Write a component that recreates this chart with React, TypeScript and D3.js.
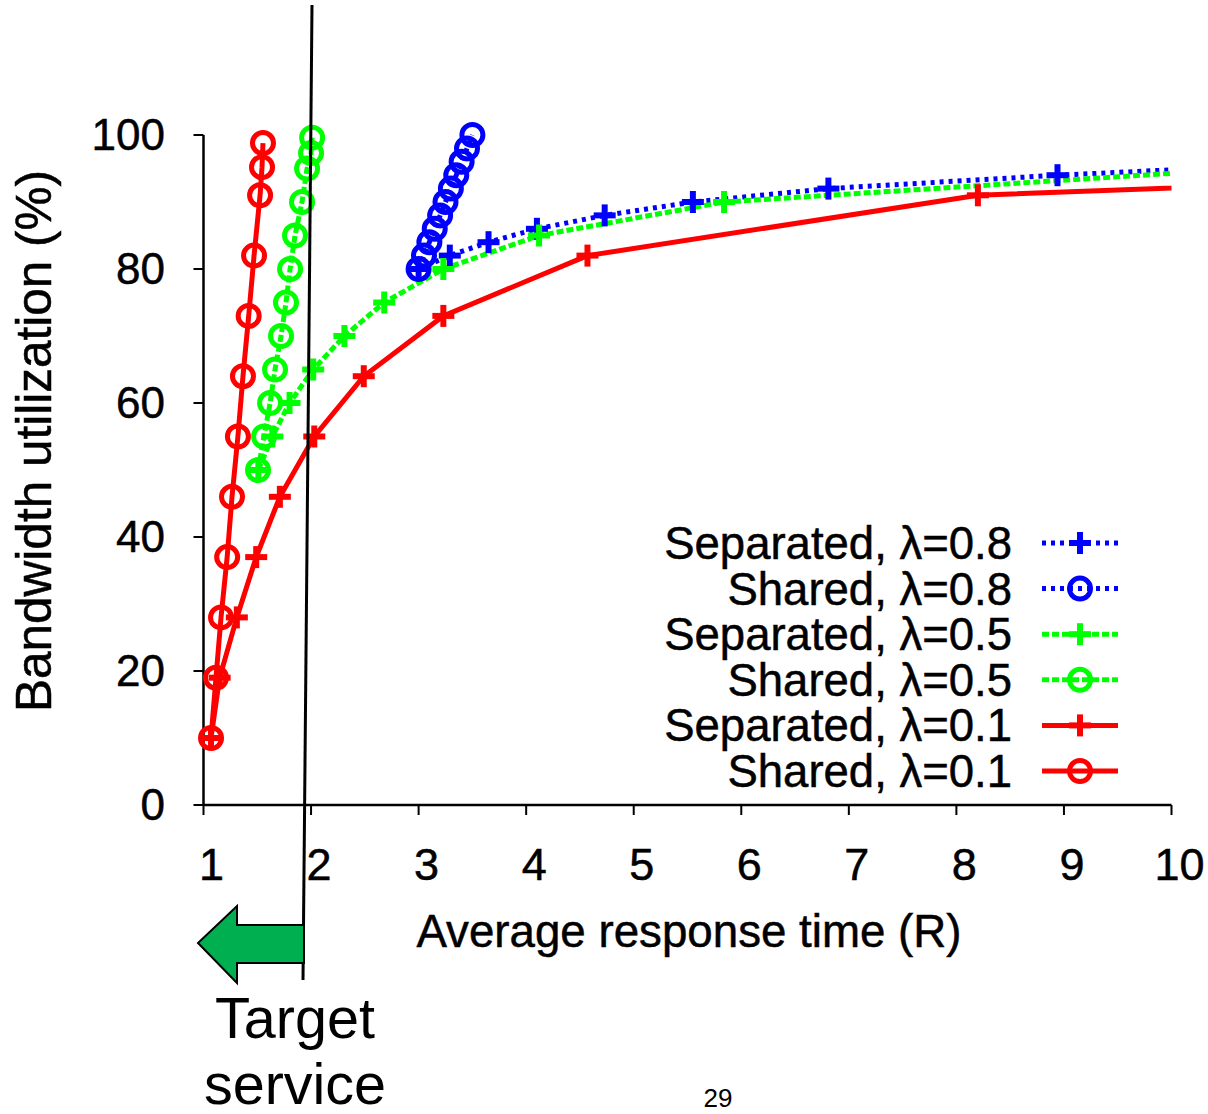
import React from "react";
import * as d3 from "d3";

// ---- data ----
const xTicks = [1, 2, 3, 4, 5, 6, 7, 8, 9, 10];
const yTicks = [0, 20, 40, 60, 80, 100];

const sepHighX = [3.0, 3.29, 3.65, 4.1, 4.73, 5.55, 6.81, 8.94, 11.6];
const sepHighY = [80, 82, 84, 86, 88, 90, 92, 94, 96];
const sharedHighX = [3.0, 3.05, 3.1, 3.15, 3.2, 3.25, 3.3, 3.35, 3.4, 3.45, 3.5];
const sharedHighY = [80, 82, 84, 86, 88, 90, 92, 94, 96, 98, 100];

const sepMidX = [1.51, 1.64, 1.8, 2.02, 2.31, 2.68, 3.23, 4.12, 5.84, 10.7];
const sepMidY = [50, 55, 60, 65, 70, 75, 80, 85, 90, 95];
const sharedMidX = [1.507, 1.563, 1.619, 1.665, 1.721, 1.767, 1.805, 1.851, 1.916, 1.963, 2.0, 2.01];
const sharedMidY = [50, 55, 60, 65, 70, 75, 80, 85, 90, 95, 97.3, 99.6];

const sepLowX = [1.07, 1.15, 1.31, 1.49, 1.71, 2.03, 2.49, 3.23, 4.57, 8.2, 22.9];
const sepLowY = [10, 19, 28, 37, 46, 55, 64, 73, 82, 91, 100];
const sharedLowX = [1.07, 1.116, 1.163, 1.22, 1.265, 1.32, 1.367, 1.42, 1.47, 1.526, 1.544, 1.553];
const sharedLowY = [10, 19, 28, 37, 46, 55, 64, 73, 82, 91, 95.2, 98.8];

const legendLabels = [
  "Separated, λ=0.8",
  "Shared, λ=0.8",
  "Separated, λ=0.5",
  "Shared, λ=0.5",
  "Separated, λ=0.1",
  "Shared, λ=0.1",
];

type Series = { xs: number[]; ys: number[]; color: string; dash: string | null; marker: "plus" | "circle" };

const series: Series[] = [
  { xs: sepHighX, ys: sepHighY, color: "#0000ff", dash: "4,5", marker: "plus" },
  { xs: sharedHighX, ys: sharedHighY, color: "#0000ff", dash: "4,5", marker: "circle" },
  { xs: sepMidX, ys: sepMidY, color: "#00ff00", dash: "7,3", marker: "plus" },
  { xs: sharedMidX, ys: sharedMidY, color: "#00ff00", dash: "7,3", marker: "circle" },
  { xs: sepLowX, ys: sepLowY, color: "#ff0000", dash: null, marker: "plus" },
  { xs: sharedLowX, ys: sharedLowY, color: "#ff0000", dash: null, marker: "circle" },
];

const FONT = "'Liberation Sans', Arial, Helvetica, sans-serif";

function Marker({ x, y, kind, color }: { x: number; y: number; kind: string; color: string }) {
  if (kind === "plus") {
    return (
      <g stroke={color} strokeWidth={6} fill="none">
        <line x1={x - 11} x2={x + 11} y1={y} y2={y} />
        <line x1={x} x2={x} y1={y - 11} y2={y + 11} />
      </g>
    );
  }
  return <circle cx={x} cy={y} r={10.5} stroke={color} strokeWidth={5} fill="none" />;
}

export default function App() {
  const x = d3.scaleLinear().domain([1, 10]).range([203.5, 1171.5]);
  const y = d3.scaleLinear().domain([0, 100]).range([805, 135]);
  const line = d3
    .line<[number, number]>()
    .x((d) => x(d[0]))
    .y((d) => y(d[1]));

  const legendY0 = 543;
  const legendStep = 45.6;
  const txt = { fill: "#000", stroke: "#000", strokeWidth: 0.5 };

  return (
    <svg
      width={1208}
      height={1114}
      style={{ position: "absolute", left: 0, top: 0, background: "#fff" }}
      fontFamily={FONT}
    >
      <defs>
        <clipPath id="plotClip">
          <rect x={x(1) - 20} y={0} width={x(10) - x(1) + 20} height={820} />
        </clipPath>
      </defs>

      {/* axes */}
      <line x1={x(1)} x2={x(10)} y1={y(0)} y2={y(0)} stroke="#000" strokeWidth={2.5} />
      <line x1={x(1)} x2={x(1)} y1={y(0)} y2={y(100)} stroke="#000" strokeWidth={2.5} />
      {xTicks.map((t) => (
        <g key={"xt" + t}>
          <line x1={x(t)} x2={x(t)} y1={y(0)} y2={y(0) + 10} stroke="#000" strokeWidth={2} />
          <text x={x(t) + 8} y={880} fontSize={45} textAnchor="middle" {...txt}>
            {t}
          </text>
        </g>
      ))}
      {yTicks.map((t) => (
        <g key={"yt" + t}>
          <line x1={x(1) - 10} x2={x(1)} y1={y(t)} y2={y(t)} stroke="#000" strokeWidth={2} />
          <text x={165} y={y(t) + 15} fontSize={44} textAnchor="end" {...txt}>
            {t}
          </text>
        </g>
      ))}

      <text x={689} y={947} fontSize={45.7} textAnchor="middle" {...txt}>
        Average response time (R)
      </text>
      <text transform="translate(51,441) rotate(-90)" fontSize={49.5} textAnchor="middle" {...txt}>
        Bandwidth utilization (%)
      </text>

      {/* series */}
      <g clipPath="url(#plotClip)">
        {series.map((s, i) => {
          const pts: [number, number][] = s.xs.map((v, k) => [v, s.ys[k]]);
          return (
            <path
              key={"l" + i}
              d={line(pts) || ""}
              fill="none"
              stroke={s.color}
              strokeWidth={5}
              strokeDasharray={s.dash || undefined}
            />
          );
        })}
      </g>
      {series.map((s, i) => (
        <g key={"m" + i}>
          {s.xs.map((v, k) =>
            v <= 10 ? <Marker key={k} x={x(v)} y={y(s.ys[k])} kind={s.marker} color={s.color} /> : null
          )}
        </g>
      ))}

      {/* legend */}
      {series.map((s, i) => {
        const cy = legendY0 + i * legendStep;
        return (
          <g key={"lg" + i}>
            <text x={1012} y={cy + 16} fontSize={45.5} textAnchor="end" {...txt}>
              {legendLabels[i]}
            </text>
            <line
              x1={1042}
              x2={1118}
              y1={cy}
              y2={cy}
              stroke={s.color}
              strokeWidth={5}
              strokeDasharray={s.dash || undefined}
            />
            <Marker x={1080} y={cy} kind={s.marker} color={s.color} />
          </g>
        );
      })}

      {/* target line and arrow */}
      <line x1={312} y1={5} x2={303} y2={980} stroke="#000" strokeWidth={3} />
      <polygon
        points="304,925 237,925 237,906 198,943 237,983 237,963 304,963"
        fill="#00b050"
        stroke="#000"
        strokeWidth={2}
      />
      <text x={295} y={1038} fontSize={57.5} textAnchor="middle" fill="#000">
        Target
      </text>
      <text x={295} y={1104} fontSize={57.5} textAnchor="middle" fill="#000">
        service
      </text>
      <text x={718} y={1107} fontSize={26} textAnchor="middle" fill="#000">
        29
      </text>
    </svg>
  );
}
